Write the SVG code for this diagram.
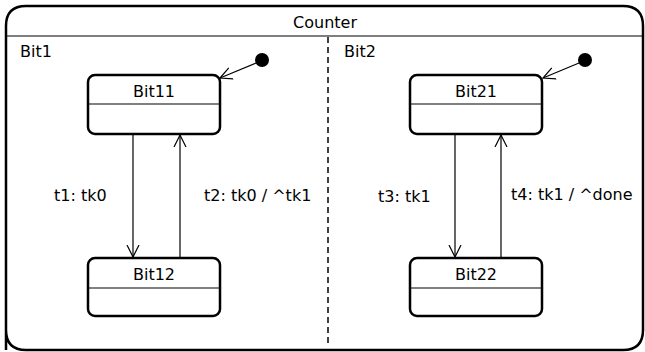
<svg xmlns="http://www.w3.org/2000/svg" width="645" height="352" viewBox="0 0 645 352">
<style>
text{font-family:"DejaVu Sans",sans-serif;font-size:16px;fill:#000}
.st{fill:#fff;stroke:#000;stroke-width:2.5}
.ln{stroke:#000;stroke-width:1.2;fill:none}
.c{text-anchor:middle}
</style>
<defs>
<marker id="open" markerWidth="14" markerHeight="14" refX="12" refY="7" orient="auto" markerUnits="userSpaceOnUse">
<path d="M0,1 L12,7 L0,13" fill="none" stroke="#000" stroke-width="1.2"/>
</marker>
</defs>
<rect width="645" height="352" fill="#fff"/>
<g id="Counter">
<path d="M6,350 V26 Q6,6 26,6 H623 Q643,6 643,26 V330 Q643,350 623,350 H26 Q6,350 6,330 Z" fill="#fff" stroke="#000" stroke-width="2.5"/>
<line x1="6" y1="36" x2="643" y2="36" class="ln"/>
<text x="325" y="28" class="c">Counter</text>
<line x1="328" y1="37" x2="328" y2="345" stroke="#000" stroke-width="1.5" stroke-dasharray="6,4"/>
<text x="20" y="57">Bit1</text>
<text x="344" y="57">Bit2</text>
</g>
<g id="init1"><circle cx="262" cy="60" r="7"/></g>
<g id="init2"><circle cx="585" cy="60" r="7"/></g>
<g id="Bit11">
<rect x="88" y="75" width="132" height="59" rx="7" class="st"/>
<line x1="88" y1="104" x2="220" y2="104" class="ln"/>
<text x="154" y="97" class="c">Bit11</text>
</g>
<g id="Bit12">
<rect x="88" y="258" width="132" height="58" rx="7" class="st"/>
<line x1="88" y1="288" x2="220" y2="288" class="ln"/>
<text x="154" y="280" class="c">Bit12</text>
</g>
<g id="Bit21">
<rect x="410" y="75" width="132" height="59" rx="7" class="st"/>
<line x1="410" y1="104" x2="542" y2="104" class="ln"/>
<text x="476" y="97" class="c">Bit21</text>
</g>
<g id="Bit22">
<rect x="410" y="258" width="132" height="58" rx="7" class="st"/>
<line x1="410" y1="288" x2="542" y2="288" class="ln"/>
<text x="476" y="280" class="c">Bit22</text>
</g>
<g id="connectors">
<line x1="256" y1="63" x2="220" y2="78" class="ln" marker-end="url(#open)"/>
<line x1="579" y1="63" x2="543" y2="78" class="ln" marker-end="url(#open)"/>
<line x1="133" y1="135" x2="133" y2="257" class="ln" marker-end="url(#open)"/>
<line x1="180" y1="257" x2="180" y2="135" class="ln" marker-end="url(#open)"/>
<line x1="455" y1="135" x2="455" y2="257" class="ln" marker-end="url(#open)"/>
<line x1="501" y1="257" x2="501" y2="135" class="ln" marker-end="url(#open)"/>
<text x="54" y="201">t1: tk0</text>
<text x="204" y="201">t2: tk0 / ^tk1</text>
<text x="378" y="202">t3: tk1</text>
<text x="511" y="200">t4: tk1 / ^done</text>
</g>
</svg>
